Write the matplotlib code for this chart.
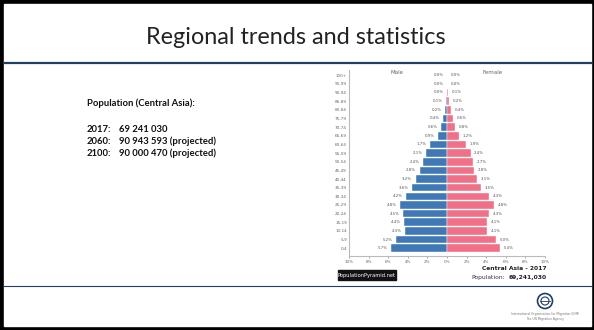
import matplotlib.pyplot as plt
from matplotlib.patches import Rectangle, Circle

W, H = 594, 330

age_groups = ["0-4", "5-9", "10-14", "15-19", "20-24", "25-29", "30-34",
              "35-39", "40-44", "45-49", "50-54", "55-59", "60-64", "65-69",
              "70-74", "75-79", "80-84", "85-89", "90-94", "95-99", "100+"]
male_pct = [5.7, 5.2, 4.3, 4.4, 4.5, 4.8, 4.2, 3.6, 3.2, 2.8, 2.4,
            2.1, 1.7, 0.9, 0.6, 0.4, 0.2, 0.1, 0.0, 0.0, 0.0]
female_pct = [5.4, 5.0, 4.1, 4.1, 4.3, 4.8, 4.3, 3.5, 3.1, 2.8, 2.7,
              2.4, 1.9, 1.2, 0.8, 0.6, 0.4, 0.2, 0.1, 0.0, 0.0]
x_ticks = [-10, -8, -6, -4, -2, 0, 2, 4, 6, 8, 10]

summary_title = "Population (Central Asia):"
summary_years = ["2017:", "2060:", "2100:"]
summary_values = ["69 241 030", "90 943 593 (projected)", "90 000 470 (projected)"]

MALE = "#3f78b4"
FEMALE = "#ef7087"
NAVY = "#1f3f66"
SLIDE_FONT = ["Lato", "DejaVu Sans"]

fig = plt.figure(figsize=(W / 100, H / 100), dpi=100)

# slide background in pixel coordinates
bg = fig.add_axes([0, 0, 1, 1])
bg.set_xlim(0, W)
bg.set_ylim(H, 0)
bg.axis("off")
bg.add_patch(Rectangle((0, 0), W, H, color="black"))
bg.add_patch(Rectangle((4, 4), W - 7, H - 8, color="white"))
bg.plot([4, W - 3], [63, 63], color=NAVY, lw=1.6)
bg.plot([4, W - 3], [286, 286], color=NAVY, lw=0.8)

bg.text(296, 38, "Regional trends and statistics", ha="center", va="center",
        fontsize=16.8, family=SLIDE_FONT, color="#222222")

bg.text(87, 103, summary_title, ha="left", va="center", fontsize=6.8,
        fontweight="bold", family=SLIDE_FONT, color="#111111")
for i, (yr, val) in enumerate(zip(summary_years, summary_values)):
    y = 129 + i * 12
    bg.text(87, y, yr, ha="left", va="center", fontsize=6.8,
            fontweight="bold", family=SLIDE_FONT, color="#111111")
    bg.text(119, y, val, ha="left", va="center", fontsize=6.8,
            fontweight="bold", family=SLIDE_FONT, color="#111111")

# pyramid chart
ax = fig.add_axes([349 / W, 1 - 256 / H, (545 - 349) / W, (256 - 70) / H])
ypos = list(range(len(age_groups)))
ax.barh(ypos, [-v for v in male_pct], height=0.88, color=MALE,
        edgecolor="white", linewidth=0.3)
ax.barh(ypos, female_pct, height=0.88, color=FEMALE,
        edgecolor="white", linewidth=0.3)
for y, m, f in zip(ypos, male_pct, female_pct):
    ax.text(-m - 0.35, y, f"{m:.1f}%", ha="right", va="center",
            fontsize=2.8, color="#555555")
    ax.text(f + 0.35, y, f"{f:.1f}%", ha="left", va="center",
            fontsize=2.8, color="#555555")

ax.set_xlim(-10, 10)
ax.set_ylim(-0.9, 20.6)
ax.set_xticks(x_ticks)
ax.set_xticklabels([f"{abs(t)}%" for t in x_ticks])
ax.set_yticks(ypos)
ax.set_yticklabels(age_groups)
ax.tick_params(axis="both", labelsize=3, colors="#666666", length=1.5,
               width=0.4, pad=1.5)
ax.tick_params(axis="y", length=0)
for side in ("top", "right"):
    ax.spines[side].set_visible(False)
for side in ("left", "bottom"):
    ax.spines[side].set_color("#bbbbbb")
    ax.spines[side].set_linewidth(0.8)
ax.set_facecolor("none")

bg.text(397, 73, "Male", ha="center", va="center", fontsize=4, color="#666666")
bg.text(493, 73, "Female", ha="center", va="center", fontsize=4, color="#666666")

bg.add_patch(Rectangle((338, 270), 58, 10, color="#111111"))
bg.text(367, 275.3, "PopulationPyramid.net", ha="center", va="center",
        fontsize=3.7, color="white")
bg.text(547, 269, "Central Asia - 2017", ha="right", va="center",
        fontsize=4.3, fontweight="bold", color="#222222")
bg.text(547, 277, "69,241,030", ha="right", va="center",
        fontsize=4.3, fontweight="bold", color="#222222")
bg.text(505, 277, "Population:", ha="right", va="center",
        fontsize=4.3, color="#333333")

# organisation logo in the footer
bg.add_patch(Circle((545, 301), 7.5, fill=False, edgecolor=NAVY, lw=1.2))
bg.add_patch(Circle((545, 301), 4, fill=False, edgecolor=NAVY, lw=0.8))
bg.plot([540, 550], [301, 301], color=NAVY, lw=0.6)
bg.text(545, 314, "International Organization for Migration (IOM)",
        ha="center", va="center", fontsize=2.2, color="#777777")
bg.text(545, 319, "The UN Migration Agency", ha="center", va="center",
        fontsize=2.2, color="#777777")

fig.savefig("out.png", dpi=100)
